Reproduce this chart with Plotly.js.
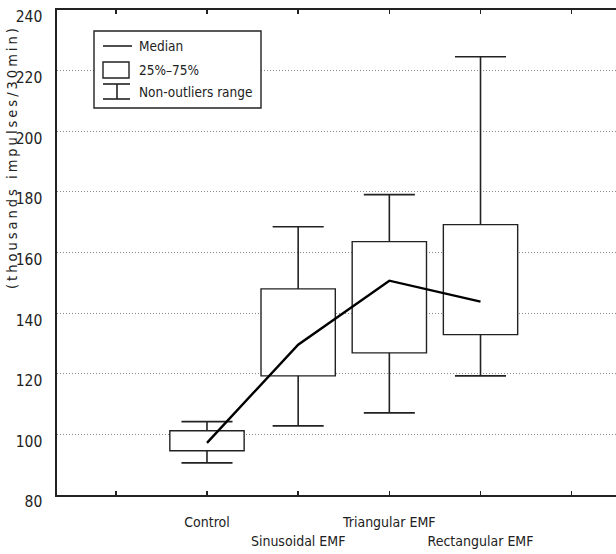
<!DOCTYPE html>
<html>
<head>
<meta charset="utf-8">
<script src="https://cdn.plot.ly/plotly-3.0.1.min.js"></script>
<style>html,body{margin:0;padding:0;background:#fff;}#chart{width:616px;height:554px;}</style>
</head>
<body>
<div id="chart"></div>
<script>
// ---- data ----
var categories = ['Control', 'Sinusoidal EMF', 'Triangular EMF', 'Rectangular EMF'];
var medians    = [97.2, 129.6, 150.7, 143.8];
var q1         = [94.6, 119.3, 126.9, 132.9];
var q3         = [101.2, 148.0, 163.6, 169.2];
var lowerRange = [90.6, 102.8, 107.1, 119.3];
var upperRange = [104.2, 168.5, 179.1, 224.6];
var yTickVals  = [80, 100, 120, 140, 160, 180, 200, 220, 240];
var legendLabels = ['Median', '25%\u201375%', 'Non-outliers range'];
var yTitle = '(thousands impulses/30min)';

// ---- layout helpers ----
var W = 616, H = 554, ML = 57, MR = 0, MT = 10, MB = 59;
var PW = W - ML - MR, PH = H - MT - MB;
function px(x) { return (x - ML) / PW; }
function py(y) { return (H - MB - y) / PH; }

var pos = categories.map(function (c, i) { return i + 1; });
var capHalf = 0.28;
var FONT = '"DejaVu Sans Condensed", "Liberation Sans Narrow", "Arial Narrow", sans-serif';
var ink = '#222';

// boxes (25%-75%)
var boxTrace = {
  type: 'bar', x: pos, base: q1,
  y: q3.map(function (v, i) { return v - q1[i]; }),
  width: 0.815,
  marker: { color: '#ffffff', line: { color: ink, width: 1.4 } },
  hoverinfo: 'skip', showlegend: false
};

// whiskers (non-outliers range)
var wx = [], wy = [];
pos.forEach(function (p, i) {
  wx.push(p, p, null, p - capHalf, p + capHalf, null, p, p, null, p - capHalf, p + capHalf, null);
  wy.push(q3[i], upperRange[i], null, upperRange[i], upperRange[i], null,
          q1[i], lowerRange[i], null, lowerRange[i], lowerRange[i], null);
});
var whiskerTrace = {
  type: 'scatter', mode: 'lines', x: wx, y: wy,
  line: { color: ink, width: 1.6 }, hoverinfo: 'skip', showlegend: false, connectgaps: false
};

// median line
var medianTrace = {
  type: 'scatter', mode: 'lines', x: pos, y: medians,
  line: { color: '#000', width: 2.4 }, hoverinfo: 'skip', showlegend: false
};

var tickVals = [0].concat(pos, [pos.length + 1]);
var tickText = [''].concat(categories.map(function (c, i) { return (i % 2 === 1 ? '<br>' : '') + c; }), ['']);

// custom legend
var shapes = [
  { type: 'rect', xref: 'paper', yref: 'paper', x0: px(94), x1: px(261), y0: py(108), y1: py(31),
    line: { color: ink, width: 1.4 }, fillcolor: '#fff', layer: 'above' },
  { type: 'line', xref: 'paper', yref: 'paper', x0: px(103), x1: px(132), y0: py(46), y1: py(46),
    line: { color: ink, width: 1.6 } },
  { type: 'rect', xref: 'paper', yref: 'paper', x0: px(103), x1: px(129), y0: py(78), y1: py(62),
    line: { color: ink, width: 1.4 } },
  { type: 'line', xref: 'paper', yref: 'paper', x0: px(103), x1: px(130), y0: py(84), y1: py(84),
    line: { color: ink, width: 1.6 } },
  { type: 'line', xref: 'paper', yref: 'paper', x0: px(103), x1: px(130), y0: py(99), y1: py(99),
    line: { color: ink, width: 1.6 } },
  { type: 'line', xref: 'paper', yref: 'paper', x0: px(117), x1: px(117), y0: py(99), y1: py(84),
    line: { color: ink, width: 1.6 } }
];
var legendY = [46, 70, 92];
var annotations = legendLabels.map(function (t, i) {
  return { text: t, xref: 'paper', yref: 'paper', x: px(137), y: py(legendY[i]),
           xanchor: 'left', yanchor: 'middle', showarrow: false,
           font: { family: FONT, size: 13.5, color: ink } };
});
annotations.push({
  text: '<span style="letter-spacing:3px">' + yTitle + '</span>',
  xref: 'paper', yref: 'paper', x: px(12), y: py(157),
  xanchor: 'center', yanchor: 'middle', textangle: -90, showarrow: false,
  font: { family: FONT, size: 14.5, color: ink }
});

var layout = {
  width: W, height: H,
  margin: { l: ML, r: MR, t: MT, b: MB, pad: 0 },
  paper_bgcolor: '#fff', plot_bgcolor: '#fff',
  showlegend: false,
  xaxis: {
    range: [-0.645, 5.486], tickmode: 'array', tickvals: tickVals, ticktext: tickText,
    ticks: 'inside', ticklen: 4, tickwidth: 1.4, tickcolor: ink, tickangle: 0,
    showline: true, linecolor: ink, linewidth: 1.6, mirror: 'ticks',
    showgrid: false, zeroline: false, ticklabelstandoff: 14,
    tickfont: { family: FONT, size: 14, color: ink }
  },
  yaxis: {
    range: [80, 240], tickmode: 'array', tickvals: yTickVals,
    ticks: '', showline: true, linecolor: ink, linewidth: 1.6,
    showgrid: true, gridcolor: '#888', gridwidth: 1, griddash: '1px,2px',
    zeroline: false, ticklabelstandoff: 10, ticklabelshift: 7, ticklabeloverflow: 'allow',
    tickfont: { family: FONT, size: 15.5, color: ink }
  },
  shapes: shapes,
  annotations: annotations
};

Plotly.newPlot('chart', [boxTrace, whiskerTrace, medianTrace], layout, { displayModeBar: false, staticPlot: true });
</script>
</body>
</html>
